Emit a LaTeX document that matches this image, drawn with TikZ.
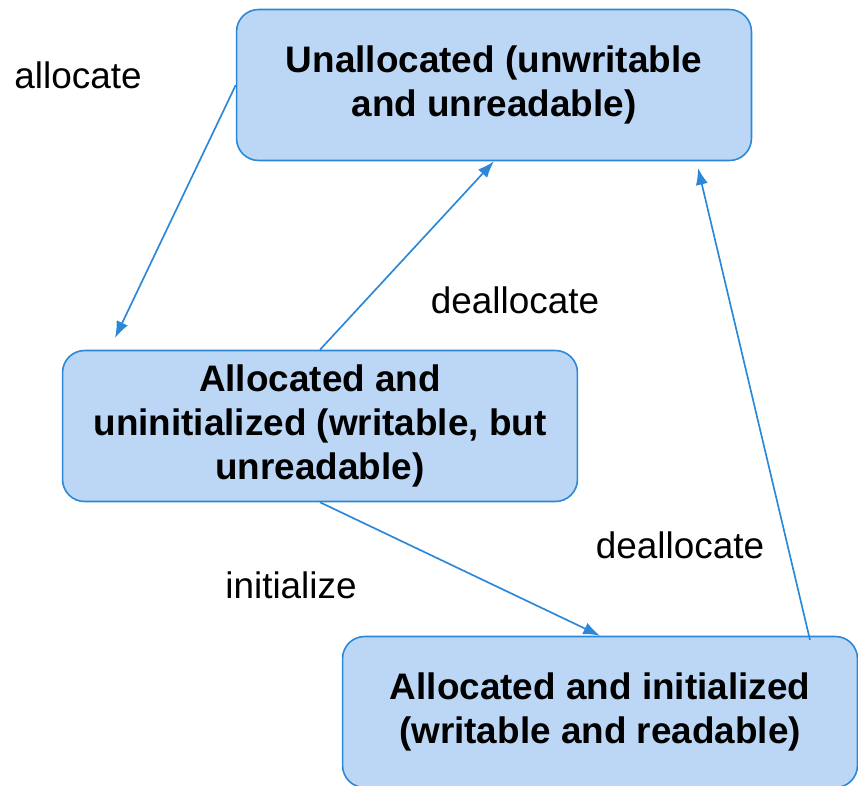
\documentclass[tikz,border=0pt]{standalone}
\usepackage{fontspec}
\setmainfont{Liberation Sans}
\usepackage{xcolor}
\usetikzlibrary{arrows.meta}

\definecolor{boxfill}{RGB}{187,215,245}
\definecolor{boxline}{RGB}{43,136,216}

\tikzset{
  state/.style={draw=boxline, fill=boxfill, line width=0.9pt, rounded corners=0.44cm,
    minimum width=10.3cm, minimum height=3.02cm, align=center,
    font=\fontsize{21}{25}\selectfont\bfseries},
  trans/.style={draw=boxline, line width=0.95pt, -{Latex[length=9.5pt,width=7pt]}},
  lbl/.style={font=\fontsize{21}{25}\selectfont}
}

\begin{document}
\begin{tikzpicture}[x=0.02cm,y=-0.02cm]
\useasboundingbox (0,0) rectangle (858,785);

\node[state](1) at (494,85){Unallocated (unwritable\\and unreadable)};
\node[state](2) at (320,426){Allocated and\\uninitialized (writable, but\\unreadable)};
\node[state](3) at (600,712){Allocated and initialized\\(writable and readable)};

\coordinate (a1) at (115,338);
\coordinate (d2s) at (810,640);
\coordinate (d2e) at (698,168);

\draw[trans](1.west)--(a1);
\draw[trans](2.north)--(1.south);
\draw[trans](2.south)--(3.north);
\draw[trans](d2s)--(d2e);

\node[lbl](l1) at (78,75){allocate};
\node[lbl](l2) at (515,300){deallocate};
\node[lbl](l3) at (291,585){initialize};
\node[lbl](l4) at (680,545){deallocate};

\end{tikzpicture}
\end{document}
